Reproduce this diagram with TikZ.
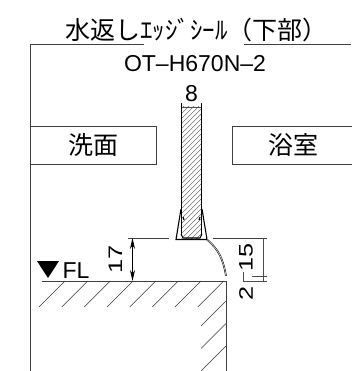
\documentclass[tikz,border=0pt]{standalone}
\usepackage{fontspec}
\usetikzlibrary{arrows.meta}
\setmainfont{Liberation Sans}
\newfontfamily\cjk{Noto Sans CJK JP}
\tikzset{
  wall/.style={line width=0.9pt,draw=black!75},
  hatchline/.style={line width=0.45pt,draw=black!80},
  fine/.style={line width=0.35pt,draw=black!70},
  seal/.style={line width=1.1pt,draw=black},
  label/.style={inner sep=0pt,text=black},
  cjklabel/.style={label,font=\cjk\fontsize{25}{25}\selectfont},
  latinlabel/.style={label,font=\fontsize{23}{23}\selectfont},
  dimlabel/.style={latinlabel,rotate=90,xscale=1.1,yscale=.85},
  dimarrow/.style={line width=0.7pt,{Stealth[length=11pt,width=5pt]}-{Stealth[length=11pt,width=5pt]}}
}
\begin{document}
\begin{tikzpicture}[x=1pt,y=-1pt]
  \useasboundingbox (0,0) rectangle (351,371);
  \node[cjklabel] (title) at (196.5,30) {水返しｴｯｼﾞｼｰﾙ（下部）};
  \node[latinlabel] (model) at (195,63.5) {OT–H670N–2};
  \node[latinlabel] (width) at (191.5,93.5) {8};
  % frame
  \coordinate (frameL) at (30,44);
  \draw[wall] (144,44) -- (frameL) -- (30,371);
  \draw[wall] (244,44) -- (351,44);
  % rooms
  \node[wall,draw,cjklabel,minimum width=126pt,minimum height=38pt] (wash) at (93,145) {\raisebox{-2pt}{洗面}};
  \node[wall,draw,cjklabel,minimum width=122pt,minimum height=38pt] (bath) at (293,145) {\raisebox{-2pt}{浴室}};
  % panel
  \begin{scope}
    \clip (181.5,107) rectangle (201,238);
    \foreach \i in {0,...,40}
      \draw[fine] (170,{100+\i*5}) -- (210,{60+\i*5});
  \end{scope}
  \draw[line width=1pt] (181.5,103) -- (181.5,236);
  \draw[line width=1pt] (201,103) -- (201,236);
  \draw[fine] (181.5,107) -- (201,107);
  % seal
  \draw[seal] (181,234) -- (183,238) -- (200,238) -- (202,234);
  \draw[seal] (181,209) -- (176,239.5) -- (207,239.5) -- (202,209);
  \draw[seal] (183,217) -- (184,220);
  \draw[seal] (200,217) -- (199,220);
  \draw[line width=1.6pt] (207,239.5) .. controls (218,249) and (223,258) .. (226,276);
  \draw[line width=0.5pt,white] (207,239.5) .. controls (218,249) and (223,258) .. (226,276);
  % floor
  \coordinate (floorL) at (42,281);
  \coordinate (floorR) at (226.5,281);
  \draw[wall] (floorL) -- (floorR) -- (226.5,371);
  \foreach \x in {65,87.7,110.3,133,155.7,178.3,201,223.7}
    \draw[hatchline] (\x,281) -- ++(-26,26);
  \foreach \y in {301,323.5,346}
    \draw[hatchline] (226,\y) -- ++(-25,25);
  % dimensions
  \draw[wall,line width=0.7pt] (128,238) -- (169,238);
  \draw[wall,line width=0.7pt] (213,238) -- (267,238);
  \coordinate (dimT) at (132.5,238);
  \coordinate (dimB) at (132.5,281);
  \draw[dimarrow] (dimT) -- (dimB);
  \node[dimlabel] (seventeen) at (115.5,259.5) {17};
  \draw[fine] (263,238) -- (263,281);
  \draw[fine] (252,276) -- (267,276);
  \draw[fine] (243,281) -- (267,281);
  \draw[fine] (243,272) -- (243,281);
  \node[dimlabel] (fifteen) at (246,257) {15};
  \node[dimlabel] (two) at (246,293) {2};
  % FL mark
  \node[latinlabel] (fl) at (76,270.5) {FL};
  \fill (37,261) -- (59,261) -- (48,278) -- cycle;
\end{tikzpicture}
\end{document}
